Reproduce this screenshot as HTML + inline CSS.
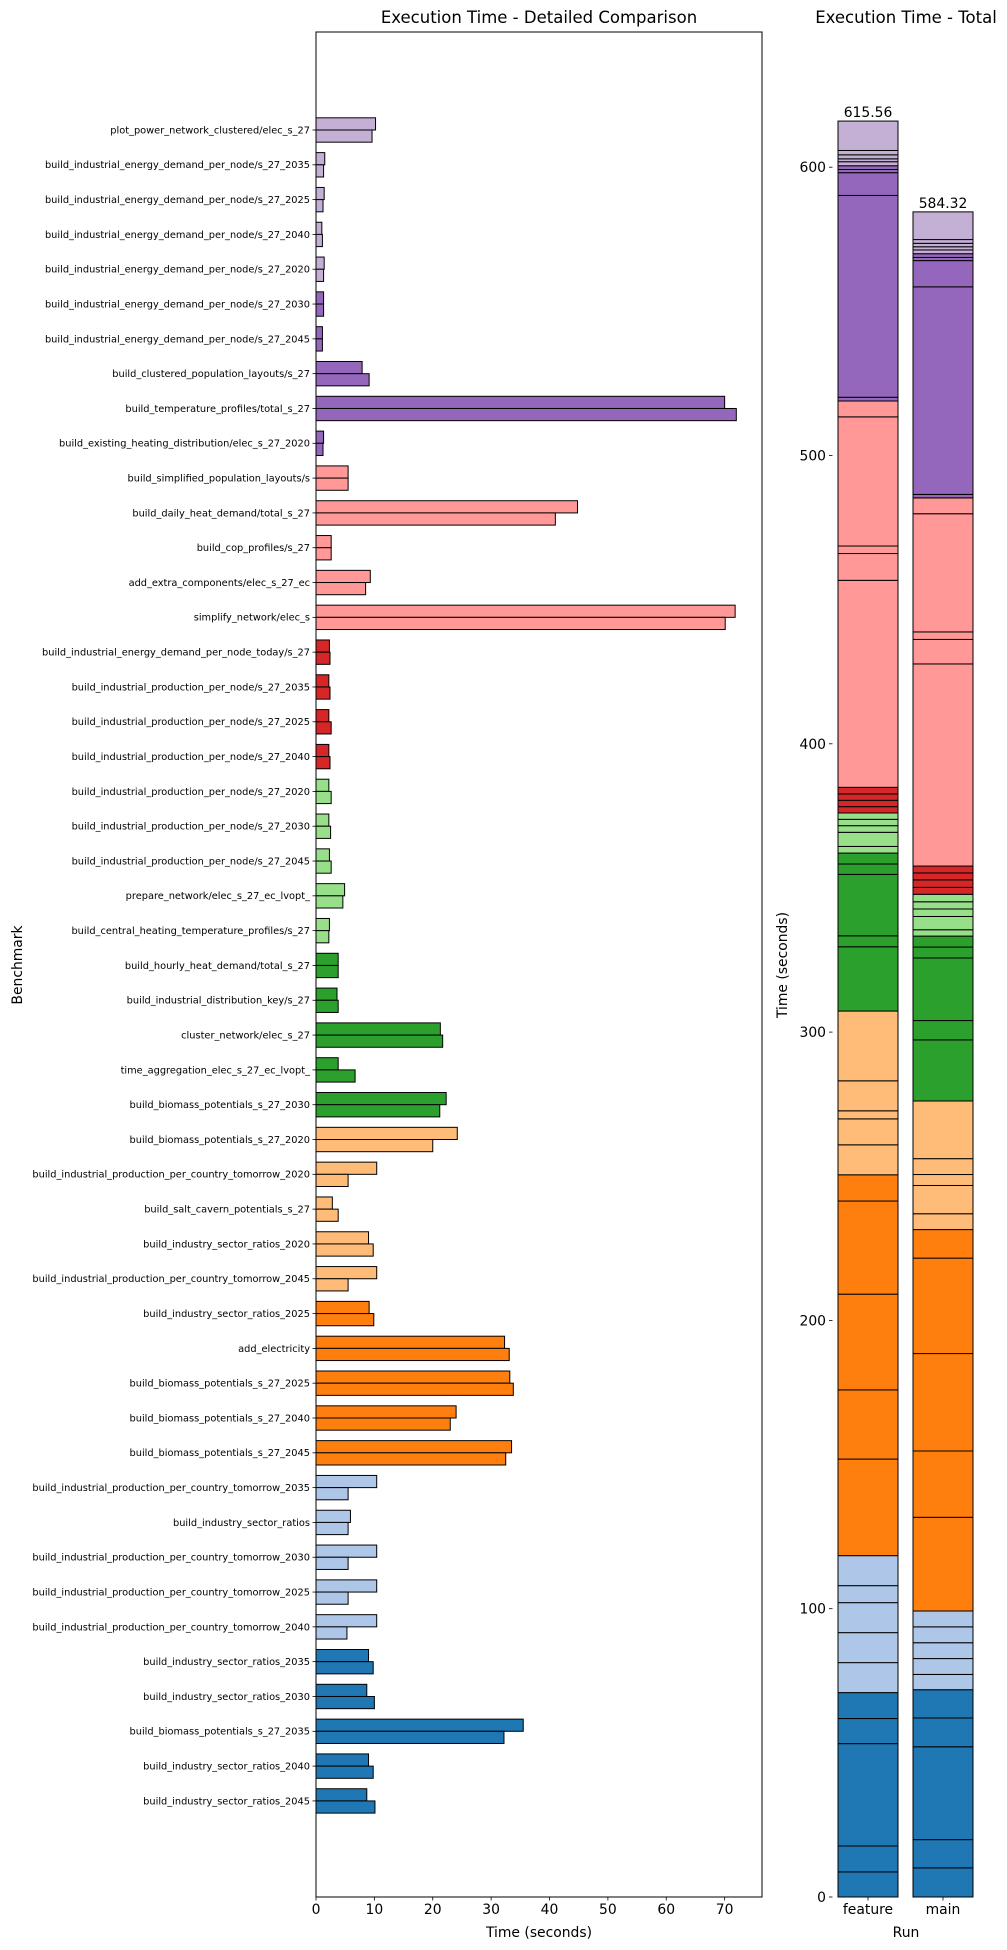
<!DOCTYPE html>
<html><head><meta charset="utf-8"><style>
html,body{margin:0;padding:0;background:#fff;}
svg{display:block;font-family:"DejaVu Sans","Liberation Sans",sans-serif;}
</style></head><body>
<svg id="chart" width="1007" height="1950" viewBox="0 0 1007 1950" xmlns="http://www.w3.org/2000/svg">
<rect width="1007" height="1950" fill="#fff"/>
<g id="left"></g>
<g id="right"></g>
<text x="539" y="23" font-size="16.5" text-anchor="middle">Execution Time - Detailed Comparison</text>
<text x="906" y="23" font-size="16.5" text-anchor="middle">Execution Time - Total</text>
<text x="539" y="1937" font-size="13.9" text-anchor="middle">Time (seconds)</text>
<text x="0" y="0" font-size="13.9" text-anchor="middle" transform="translate(22,965) rotate(-90)">Benchmark</text>
<text x="906" y="1937" font-size="13.9" text-anchor="middle">Run</text>
<text x="0" y="0" font-size="13.9" text-anchor="middle" transform="translate(787,965) rotate(-90)">Time (seconds)</text>
</svg>
<script>
// bottom-to-top order (index 0 = bottom row / bottom of stack)
const categories = [
"build_industry_sector_ratios_2045","build_industry_sector_ratios_2040","build_biomass_potentials_s_27_2035","build_industry_sector_ratios_2030","build_industry_sector_ratios_2035",
"build_industrial_production_per_country_tomorrow_2040","build_industrial_production_per_country_tomorrow_2025","build_industrial_production_per_country_tomorrow_2030","build_industry_sector_ratios","build_industrial_production_per_country_tomorrow_2035",
"build_biomass_potentials_s_27_2045","build_biomass_potentials_s_27_2040","build_biomass_potentials_s_27_2025","add_electricity","build_industry_sector_ratios_2025",
"build_industrial_production_per_country_tomorrow_2045","build_industry_sector_ratios_2020","build_salt_cavern_potentials_s_27","build_industrial_production_per_country_tomorrow_2020","build_biomass_potentials_s_27_2020",
"build_biomass_potentials_s_27_2030","time_aggregation_elec_s_27_ec_lvopt_","cluster_network/elec_s_27","build_industrial_distribution_key/s_27","build_hourly_heat_demand/total_s_27",
"build_central_heating_temperature_profiles/s_27","prepare_network/elec_s_27_ec_lvopt_","build_industrial_production_per_node/s_27_2045","build_industrial_production_per_node/s_27_2030","build_industrial_production_per_node/s_27_2020",
"build_industrial_production_per_node/s_27_2040","build_industrial_production_per_node/s_27_2025","build_industrial_production_per_node/s_27_2035","build_industrial_energy_demand_per_node_today/s_27",
"simplify_network/elec_s","add_extra_components/elec_s_27_ec","build_cop_profiles/s_27","build_daily_heat_demand/total_s_27","build_simplified_population_layouts/s",
"build_existing_heating_distribution/elec_s_27_2020","build_temperature_profiles/total_s_27","build_clustered_population_layouts/s_27","build_industrial_energy_demand_per_node/s_27_2045","build_industrial_energy_demand_per_node/s_27_2030",
"build_industrial_energy_demand_per_node/s_27_2020","build_industrial_energy_demand_per_node/s_27_2040","build_industrial_energy_demand_per_node/s_27_2025","build_industrial_energy_demand_per_node/s_27_2035","plot_power_network_clustered/elec_s_27"
];
const featureTimes = [8.7,9.0,35.5,8.7,9.0, 10.4,10.4,10.4,5.9,10.4, 33.5,24.0,33.2,32.3,9.1, 10.4,9.0,2.8,10.4,24.2, 22.3,3.8,21.3,3.6,3.8, 2.3,4.9,2.3,2.2,2.2, 2.2,2.2,2.2,2.3, 71.8,9.3,2.6,44.8,5.5, 1.3,70.0,7.9,1.1,1.3, 1.4,1.0,1.4,1.5,10.2];
const mainTimes = [10.1,9.8,32.2,10.0,9.8, 5.3,5.5,5.5,5.5,5.5, 32.5,23.0,33.8,33.1,9.9, 5.5,9.8,3.8,5.5,20.0, 21.2,6.7,21.7,3.8,3.8, 2.2,4.6,2.6,2.5,2.6, 2.4,2.6,2.4,2.4, 70.1,8.5,2.6,41.0,5.5, 1.2,72.0,9.1,1.1,1.3, 1.3,1.1,1.2,1.3,9.6];
const colorGroup = [0,0,0,0,0, 1,1,1,1,1, 2,2,2,2,2, 3,3,3,3,3, 4,4,4,4,4, 5,5,5,5,5, 6,6,6,6, 7,7,7,7,7, 8,8,8,8,8, 9,9,9,9,9];
const runs = ["feature","main"];
const totals = [615.56, 584.32];
const xTicks = [0,10,20,30,40,50,60,70];
const yTicksRight = [0,100,200,300,400,500,600];

const palette = ["#1f77b4","#aec7e8","#ff7f0e","#ffbb78","#2ca02c","#98df8a","#d62728","#ff9896","#9467bd","#c5b0d5"];
const NS = "http://www.w3.org/2000/svg";
function mk(parent, tag, attrs){const e=document.createElementNS(NS,tag);for(const k in attrs)e.setAttribute(k,attrs[k]);parent.appendChild(e);return e;}

// left axes
const L = {x0:316, x1:762, y0:32, y1:1897, xmin:0, xmax:76.4, ymin:-2.76, ymax:50.815};
const xL = v => L.x0 + (v - L.xmin) / (L.xmax - L.xmin) * (L.x1 - L.x0);
const yL = i => L.y1 - (i - L.ymin) / (L.ymax - L.ymin) * (L.y1 - L.y0);
const bh = 0.35 * (L.y1 - L.y0) / (L.ymax - L.ymin);
const left = document.getElementById('left');
categories.forEach((c, i) => {
  const yc = yL(i);
  const col = palette[colorGroup[i]];
  const r1 = mk(left, 'rect', {x:xL(0), y:yc - bh, width:xL(featureTimes[i]) - xL(0), height:bh, fill:col, stroke:'#000', 'stroke-width':1});
  
  
  const r2 = mk(left, 'rect', {x:xL(0), y:yc, width:xL(mainTimes[i]) - xL(0), height:bh, fill:col, stroke:'#000', 'stroke-width':1});
  
  
  const tk = mk(left, 'line', {x1:L.x0 - 3.5, x2:L.x0, y1:yc, y2:yc, stroke:'#000', 'stroke-width':0.8});
  
  
  const t = mk(left, 'text', {x:L.x0 - 6, y:yc + 3.4, 'font-size':9.8, 'text-anchor':'end'});
  
  
  t.textContent = c;
});
const frame = mk(left, 'rect', {x:L.x0, y:L.y0, width:L.x1 - L.x0, height:L.y1 - L.y0, fill:'none', stroke:'#000', 'stroke-width':1});


xTicks.forEach(v => {
  const tk = mk(left, 'line', {x1:xL(v), x2:xL(v), y1:L.y1, y2:L.y1 + 3.5, stroke:'#000', 'stroke-width':0.8});
  
  
  const t = mk(left, 'text', {x:xL(v), y:L.y1 + 17, 'font-size':13.9, 'text-anchor':'middle'});
  
  
  t.textContent = String(v);
});

// right axes
const R = {y1:1897, pxPer:2.883};
const yR = v => R.y1 - v * R.pxPer;
const barX = [838, 913], barW = 60;
const right = document.getElementById('right');
const series = [featureTimes, mainTimes];
runs.forEach((run, r) => {
  let acc = 0;
  series[r].forEach((v, i) => {
    const seg = mk(right, 'rect', {x:barX[r], y:yR(acc + v), width:barW, height:yR(acc) - yR(acc + v), fill:palette[colorGroup[i]], stroke:'#000', 'stroke-width':1});
    
    
    acc += v;
  });
  const t = mk(right, 'text', {x:barX[r] + barW / 2, y:yR(acc) - 4, 'font-size':13.9, 'text-anchor':'middle'});
  
  
  t.textContent = totals[r].toFixed(2);
  const tk = mk(right, 'line', {x1:barX[r] + barW / 2, x2:barX[r] + barW / 2, y1:R.y1, y2:R.y1 + 3.5, stroke:'#000', 'stroke-width':0.8});
  
  
  const tl = mk(right, 'text', {x:barX[r] + barW / 2, y:R.y1 + 17, 'font-size':13.9, 'text-anchor':'middle'});
  
  
  tl.textContent = run;
});
yTicksRight.forEach(v => {
  const tk = mk(right, 'line', {x1:829, x2:832.5, y1:yR(v), y2:yR(v), stroke:'#000', 'stroke-width':0.8});
  
  
  const t = mk(right, 'text', {x:826, y:yR(v) + 5, 'font-size':13.9, 'text-anchor':'end'});
  
  
  t.textContent = String(v);
});
</script>
</body></html>
